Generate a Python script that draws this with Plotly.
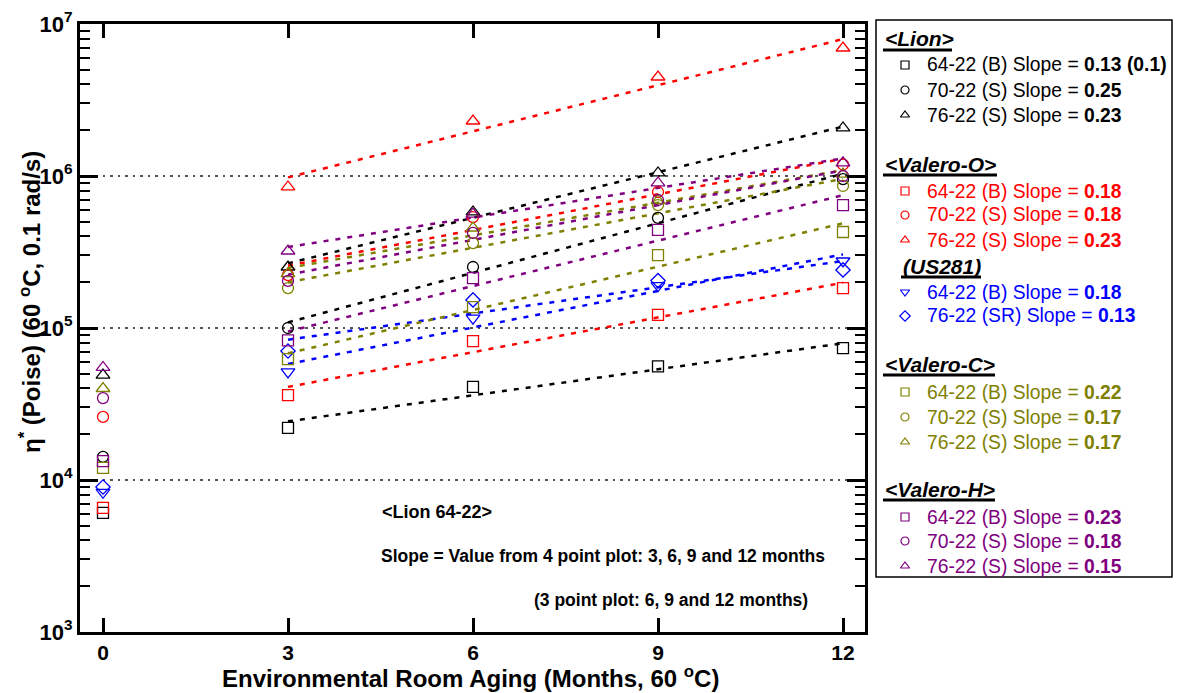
import numpy as np
import plotly.graph_objects as go

W, H = 1177, 693
FONT = "Liberation Sans, Arial, sans-serif"

# ---------------- data ----------------
months = [0, 3, 6, 9, 12]

lion_64_22_B = [6070, 22000, 41000, 56000, 73800]
lion_70_22_S = [14200, 100000, 252000, 530000, 953000]
lion_76_22_S = [49000, 252000, 580000, 1047000, 2070000]
valo_64_22_B = [6550, 36200, 82000, 122000, 183000]
valo_70_22_S = [26000, 223000, 537000, 785000, 1190000]
valo_76_22_S = [None, 847000, 2300000, 4480000, 6950000]
us281_64_22_B = [8300, 51400, 116000, 190000, 276000]
us281_76_22_SR = [9000, 70600, 153000, 205000, 241000]
valc_64_22_B = [12000, 62500, 137000, 302000, 428000]
valc_70_22_S = [None, 183000, 362000, 644000, 860000]
valc_76_22_S = [40000, 228000, 455000, 690000, 1030000]
valh_64_22_B = [13300, 83000, 213000, 442000, 644000]
valh_70_22_S = [34600, 204000, 422000, 695000, 1000000]
valh_76_22_S = [55000, 321000, 562000, 900000, 1220000]

x_ticks = [0, 3, 6, 9, 12]
y_tickvals = [1e3, 1e4, 1e5, 1e6, 1e7]
y_ticktext = ["10<sup>3</sup>", "10<sup>4</sup>", "10<sup>5</sup>", "10<sup>6</sup>", "10<sup>7</sup>"]

BLACK, RED, BLUE, OLIVE, PURPLE = "#000000", "#FF0000", "#0000FF", "#808000", "#800080"

# (group header, [(label, slope, values, color, symbol)])
groups = [
    ("<Lion>", [
        ("64-22 (B)", "0.13 (0.1)", lion_64_22_B, BLACK, "square"),
        ("70-22 (S)", "0.25", lion_70_22_S, BLACK, "circle"),
        ("76-22 (S)", "0.23", lion_76_22_S, BLACK, "triangle-up"),
    ]),
    ("<Valero-O>", [
        ("64-22 (B)", "0.18", valo_64_22_B, RED, "square"),
        ("70-22 (S)", "0.18", valo_70_22_S, RED, "circle"),
        ("76-22 (S)", "0.23", valo_76_22_S, RED, "triangle-up"),
    ]),
    ("(US281)", [
        ("64-22 (B)", "0.18", us281_64_22_B, BLUE, "triangle-down"),
        ("76-22 (SR)", "0.13", us281_76_22_SR, BLUE, "diamond"),
    ]),
    ("<Valero-C>", [
        ("64-22 (B)", "0.22", valc_64_22_B, OLIVE, "square"),
        ("70-22 (S)", "0.17", valc_70_22_S, OLIVE, "circle"),
        ("76-22 (S)", "0.17", valc_76_22_S, OLIVE, "triangle-up"),
    ]),
    ("<Valero-H>", [
        ("64-22 (B)", "0.23", valh_64_22_B, PURPLE, "square"),
        ("70-22 (S)", "0.18", valh_70_22_S, PURPLE, "circle"),
        ("76-22 (S)", "0.15", valh_76_22_S, PURPLE, "triangle-up"),
    ]),
]

# ---------------- layout geometry (pixels) ----------------
PL, PR, PT, PB = 80, 865, 24, 632          # plot area
LL, LR, LT, LB = 876, 1172, 20, 577        # legend box

def fx(px):
    return px / W

def fy(py):
    return 1 - py / H

fig = go.Figure()

sizes = {"square": 11, "circle": 11, "triangle-up": 12, "triangle-down": 12, "diamond": 11}

# fit lines (log-linear fit over 3..12 months)
for header, entries in groups:
    for label, slope, vals, color, sym in entries:
        xs = np.array([m for m, v in zip(months, vals) if v is not None and m >= 3], float)
        ys = np.log10([v for m, v in zip(months, vals) if v is not None and m >= 3])
        a, b = np.polyfit(xs, ys, 1)
        xl = np.array([3.0, 12.0])
        fig.add_trace(go.Scatter(
            x=xl, y=10 ** (a * xl + b), mode="lines",
            line=dict(color=color, width=2.5, dash="5px,7px"),
            showlegend=False, hoverinfo="skip", xaxis="x", yaxis="y"))

# markers
for header, entries in groups:
    for label, slope, vals, color, sym in entries:
        fig.add_trace(go.Scatter(
            x=months, y=vals, mode="markers",
            marker=dict(symbol=sym + "-open", size=sizes[sym], color=color,
                        line=dict(width=1.3, color=color)),
            name=f"{header} {label}", showlegend=False, xaxis="x", yaxis="y"))

# ---------------- manual legend ----------------
header_y = [39, 164, 266, 364, 489]
row_y = [[65, 90, 115], [191, 215, 240], [292, 316], [392, 417, 442], [517, 541, 566]]
header_x = [883, 883, 901, 883, 883]
underline_x1 = [952, 997, 981, 995, 995]

shapes = []
annotations = []
for gi, (header, entries) in enumerate(groups):
    hy = header_y[gi]
    annotations.append(dict(
        x=fx(header_x[gi]), y=fy(hy), xref="paper", yref="paper",
        text="<b><i>" + header.replace("<", "&lt;").replace(">", "&gt;") + "</i></b>",
        showarrow=False, xanchor="left", yanchor="middle",
        font=dict(family=FONT, size=21, color="black")))
    shapes.append(dict(type="line", xref="paper", yref="paper",
                       x0=fx(header_x[gi]), x1=fx(underline_x1[gi]),
                       y0=fy(hy + 11), y1=fy(hy + 11),
                       line=dict(color="black", width=3)))
    for ri, (label, slope, vals, color, sym) in enumerate(entries):
        ry = row_y[gi][ri]
        fig.add_trace(go.Scatter(
            x=[905], y=[ry], mode="markers",
            marker=dict(symbol=sym + "-open", size=8,
                        color=color, line=dict(width=1.2, color=color)),
            showlegend=False, hoverinfo="skip", xaxis="x2", yaxis="y2"))
        annotations.append(dict(
            x=fx(925), y=fy(ry), xref="paper", yref="paper",
            text=f"{label} Slope = <b>{slope}</b>",
            showarrow=False, xanchor="left", yanchor="middle",
            font=dict(family=FONT, size=19.3, color=color)))

shapes.append(dict(type="rect", xref="paper", yref="paper",
                   x0=fx(LL), x1=fx(LR), y0=fy(LB), y1=fy(LT),
                   line=dict(color="black", width=1.5), fillcolor="rgba(0,0,0,0)"))

# ---------------- in-plot notes ----------------
annotations += [
    dict(x=fx(380), y=fy(512), xref="paper", yref="paper", text="<b>&lt;Lion 64-22&gt;</b>",
         showarrow=False, xanchor="left", yanchor="middle",
         font=dict(family=FONT, size=18, color="black")),
    dict(x=fx(379), y=fy(556), xref="paper", yref="paper",
         text="<b>Slope = Value from 4 point plot: 3, 6, 9 and 12 months</b>",
         showarrow=False, xanchor="left", yanchor="middle",
         font=dict(family=FONT, size=17.5, color="black")),
    dict(x=fx(532), y=fy(600), xref="paper", yref="paper",
         text="<b>(3 point plot: 6, 9 and 12 months)</b>",
         showarrow=False, xanchor="left", yanchor="middle",
         font=dict(family=FONT, size=17.5, color="black")),
    # axis titles
    dict(x=fx(470), y=fy(677), xref="paper", yref="paper",
         text="<b>Environmental Room Aging (Months, 60 <sup>o</sup>C)</b>",
         showarrow=False, xanchor="center", yanchor="middle",
         font=dict(family=FONT, size=24, color="black")),
    dict(x=fx(30), y=fy(302), xref="paper", yref="paper",
         text="<b>η<sup>*</sup> (Poise) (60 <sup>o</sup>C, 0.1 rad/s)</b>",
         showarrow=False, xanchor="center", yanchor="middle", textangle=-90,
         font=dict(family=FONT, size=24, color="black")),
]

x_lo = 0 - (103 - PL) / 185 * 3
x_hi = 12 + (PR - 843) / 185 * 3

fig.update_layout(
    width=W, height=H, margin=dict(l=0, r=0, t=0, b=0, pad=0, autoexpand=False),
    paper_bgcolor="white", plot_bgcolor="white",
    font=dict(family=FONT, color="black"),
    showlegend=False,
    shapes=shapes, annotations=annotations,
    xaxis=dict(domain=[fx(PL), fx(PR)], range=[x_lo, x_hi], automargin=False,
               tickvals=x_ticks, ticktext=[f"<b>{t}</b>" for t in x_ticks],
               ticks="inside", ticklen=14, tickwidth=2.5, tickcolor="black",
               showline=True, linecolor="black", linewidth=3, mirror="allticks",
               showgrid=False, zeroline=False,
               tickfont=dict(family=FONT, size=21, color="black")),
    yaxis=dict(domain=[fy(PB), fy(PT)], type="log", range=[3, 7], automargin=False,
               tickvals=y_tickvals, ticktext=[f"<b>{t}</b>" for t in y_ticktext],
               ticks="inside", ticklen=18, tickwidth=2.5, tickcolor="black",
               minor=dict(ticks="inside", ticklen=10, tickwidth=2, tickcolor="black",
                          dtick="D1", showgrid=False),
               showline=True, linecolor="black", linewidth=3, mirror="allticks",
               showgrid=True, gridcolor="#555555", gridwidth=1.5, griddash="2.5px,5px",
               zeroline=False,
               tickfont=dict(family=FONT, size=22, color="black")),
    xaxis2=dict(domain=[fx(LL), fx(LR)], range=[LL, LR], visible=False, fixedrange=True,
                automargin=False),
    yaxis2=dict(domain=[fy(LB), fy(LT)], range=[LB, LT], visible=False, fixedrange=True,
                automargin=False),
)

fig.write_html("out.html")
